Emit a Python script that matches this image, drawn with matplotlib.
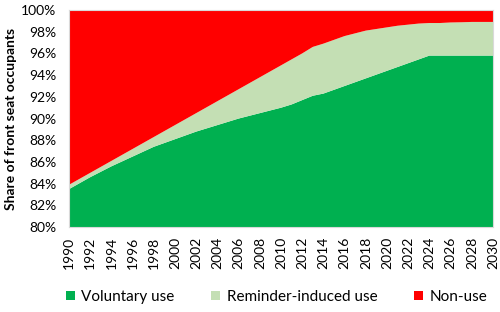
import numpy as np
import matplotlib.pyplot as plt
from matplotlib.patches import Patch

plt.rcParams['font.family'] = ['Lato', 'DejaVu Sans']

years = list(range(1990, 2031))
# shares in %
voluntary = [83.5, 84.05, 84.6, 85.1, 85.6, 86.05, 86.5, 86.95, 87.4, 87.75,
             88.1, 88.45, 88.8, 89.1, 89.4, 89.7, 90.0, 90.25, 90.5, 90.75,
             91.0, 91.3, 91.7, 92.1, 92.3, 92.65, 93.0, 93.35, 93.7, 94.05,
             94.4, 94.75, 95.1, 95.45, 95.8, 95.8, 95.8, 95.8, 95.8, 95.8, 95.8]
reminder = [0.4, 0.4, 0.4, 0.45, 0.5, 0.6, 0.7, 0.8, 0.9, 1.1,
            1.3, 1.5, 1.7, 1.95, 2.2, 2.45, 2.7, 3.0, 3.3, 3.6,
            3.9, 4.15, 4.3, 4.5, 4.6, 4.6, 4.6, 4.5, 4.4, 4.2,
            4.0, 3.8, 3.55, 3.3, 3.0, 3.0, 3.05, 3.07, 3.1, 3.1, 3.1]
nonuse = [100 - v - r for v, r in zip(voluntary, reminder)]

labels = ["Voluntary use", "Reminder-induced use", "Non-use"]
colors = ["#00B050", "#C4DFB4", "#FF0000"]

fig = plt.figure(figsize=(5, 3.12), dpi=100)
ax = fig.add_axes([0.138, 0.272, 0.848, 0.696])

ax.stackplot(years, voluntary, reminder, nonuse, colors=colors, linewidth=0)

ax.set_xlim(1990, 2030)
ax.set_ylim(80, 100)
ax.set_xticks(years[::2])
ax.set_xticklabels([str(y) for y in years[::2]], rotation=90, fontsize=10)
ax.set_yticks(np.arange(80, 101, 2))
ax.set_yticklabels([f"{v}%" for v in range(80, 101, 2)], fontsize=10)
ax.tick_params(axis="y", length=0, pad=9)
ax.tick_params(axis="x", length=0, pad=7)
for s in ax.spines.values():
    s.set_color("#D9D9D9")
    s.set_linewidth(0.8)

ax.set_ylabel("Share of front seat occupants", fontsize=10, fontweight="bold", labelpad=3)

handles = [Patch(facecolor=c, label=l) for c, l in zip(colors, labels)]
fig.legend(handles=handles, loc="center", bbox_to_anchor=(0.553, 0.048), ncol=3,
           frameon=False, fontsize=11, handlelength=0.6, handleheight=0.6,
           columnspacing=2.4, handletextpad=0.4)

fig.savefig("out.png", dpi=100)
